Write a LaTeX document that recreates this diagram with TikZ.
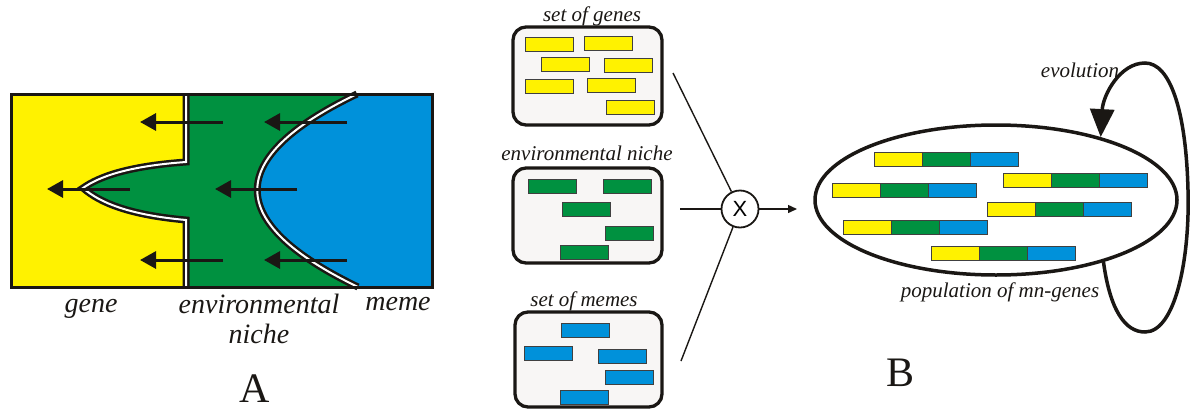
\documentclass[tikz,border=0pt]{standalone}
\usepackage{fontspec}
\setmainfont{Liberation Serif}
\newfontfamily\xsans{Liberation Sans}
\usetikzlibrary{arrows.meta,shapes.geometric,calc}
\definecolor{gy}{HTML}{FFF200}
\definecolor{gg}{HTML}{009140}
\definecolor{gb}{HTML}{0091DA}
\definecolor{boxfill}{HTML}{F8F6F5}
\definecolor{ink}{HTML}{1A1714}
\tikzset{
  dbl/.style={draw=ink, line width=2.5pt, double=white, double distance=2pt},
  farrow/.style={draw=ink, line width=3pt, -{Triangle[length=16pt,width=17pt]}},
  lblA/.style={font=\itshape\fontsize{28}{33}\selectfont, anchor=base, inner sep=0pt, text=ink},
  lblB/.style={font=\itshape\fontsize{21}{25}\selectfont, anchor=base, inner sep=0pt, text=ink},
  bigletter/.style={font=\fontsize{42}{48}\selectfont, anchor=base, inner sep=0pt, text=ink},
  setbox/.style={draw=ink, line width=3.3pt, fill=boxfill, rounded corners=13pt, inner sep=0pt},
  chip/.style={draw=black!75, line width=0.8pt},
  wire/.style={draw=ink, line width=1.4pt},
}
\begin{document}
\begin{tikzpicture}[x=1pt,y=-1pt]
\useasboundingbox (0,0) rectangle (1197,410);
% ---------------- Panel A ----------------
\fill[gy] (11,94) rectangle (432,287);
\fill[gg] (186,94) -- (432,94) -- (432,287) -- (186,287) -- (186,220)
  .. controls (130,215) and (100,203) .. (83,188)
  .. controls (100,176) and (130,166) .. (186,162) -- cycle;
\fill[gb] (357,94) -- (432,94) -- (432,287) -- (358,287)
  .. controls (224,222.3) and (223.7,158) .. (357,94) -- cycle;
\draw[dbl] (186,94) -- (186,162) .. controls (130,166) and (100,176) .. (83,188)
  .. controls (100,203) and (130,215) .. (186,220) -- (186,287);
\draw[dbl] (357,94) .. controls (223.7,158) and (224,222.3) .. (358,287);
\draw[ink, line width=3pt] (11,94) rectangle (432,287);
\draw[farrow] (223,122) -- (140,122);
\draw[farrow] (347,122) -- (264,122);
\draw[farrow] (130,189) -- (47,189);
\draw[farrow] (297,189) -- (215,189);
\draw[farrow] (223,260) -- (140,260);
\draw[farrow] (347,260) -- (264,260);
\node[lblA] (lgene) at (91,312) {gene};
\node[lblA] (lenv) at (259,313) {environmental};
\node[lblA] (lniche) at (259,343) {niche};
\node[lblA] (lmeme) at (398,310) {meme};
\node[bigletter] (lA) at (255,402) {A};
% ---------------- Panel B ----------------
\node[setbox, minimum width=149pt, minimum height=98pt] (genes) at (587.5,76) {};
\node[setbox, minimum width=149pt, minimum height=95pt] (niche) at (587.5,215.5) {};
\node[setbox, minimum width=147pt, minimum height=95pt] (memes) at (588.5,359.5) {};
\node[lblB] (tgenes) at (592,21) {set of genes};
\node[lblB] (tniche) at (587,160) {environmental niche};
\node[lblB] (tmemes) at (584,306) {set of memes};
\foreach \x/\y in {525/37, 584/36, 541/57, 604/58, 525/79, 587/78, 606/100}
  \filldraw[chip, fill=gy] (\x,\y) rectangle ++(48,14);
\foreach \x/\y in {528/179, 603/179, 562/202, 605/226, 560/245}
  \filldraw[chip, fill=gg] (\x,\y) rectangle ++(48,14);
\foreach \x/\y in {561/323, 524/346, 598/349, 605/370, 560/390}
  \filldraw[chip, fill=gb] (\x,\y) rectangle ++(48,14);
% combination
\node[circle, draw=ink, line width=1.8pt, minimum size=37pt, inner sep=0pt,
      font=\xsans\fontsize{22}{26}\selectfont] (mult) at (740,209) {X};
\coordinate (t1) at (673,73);
\coordinate (l1) at (680,209);
\coordinate (b1) at (681,361);
\coordinate (a1) at (797,209);
\draw[wire] (t1) -- (mult);
\draw[wire] (l1) -- (mult);
\draw[wire] (b1) -- (mult);
\draw[wire, -{Triangle[length=9pt,width=8pt]}] (mult) -- (a1);
% population
\node[ellipse, draw=ink, line width=3.5pt, minimum width=362pt, minimum height=150pt, inner sep=0pt] (pop) at (996,200) {};
\foreach \x/\y in {874/152, 1003/173, 832/183, 987/202, 843/220, 931/246} {
  \filldraw[chip, fill=gy] (\x,\y) rectangle ++(48,14);
  \filldraw[chip, fill=gg] (\x+48,\y) rectangle ++(48,14);
  \filldraw[chip, fill=gb] (\x+96,\y) rectangle ++(48,14);
}
\node[lblB] (tevo) at (1080,77) {evolution};
\node[lblB] (tpop) at (1000,297) {population of mn-genes};
\draw[draw=ink, line width=3.5pt, -{Triangle[length=28pt,width=24pt]}]
  (pop.-30) .. controls (1110,310) and (1125,332) .. (1145,332)
  .. controls (1175,332) and (1190,260) .. (1188,190)
  .. controls (1186,110) and (1170,63) .. (1145,63)
  .. controls (1120,63) and (1103,95) .. (pop.31);
\node[bigletter] (lB) at (900,386) {B};
\end{tikzpicture}
\end{document}
